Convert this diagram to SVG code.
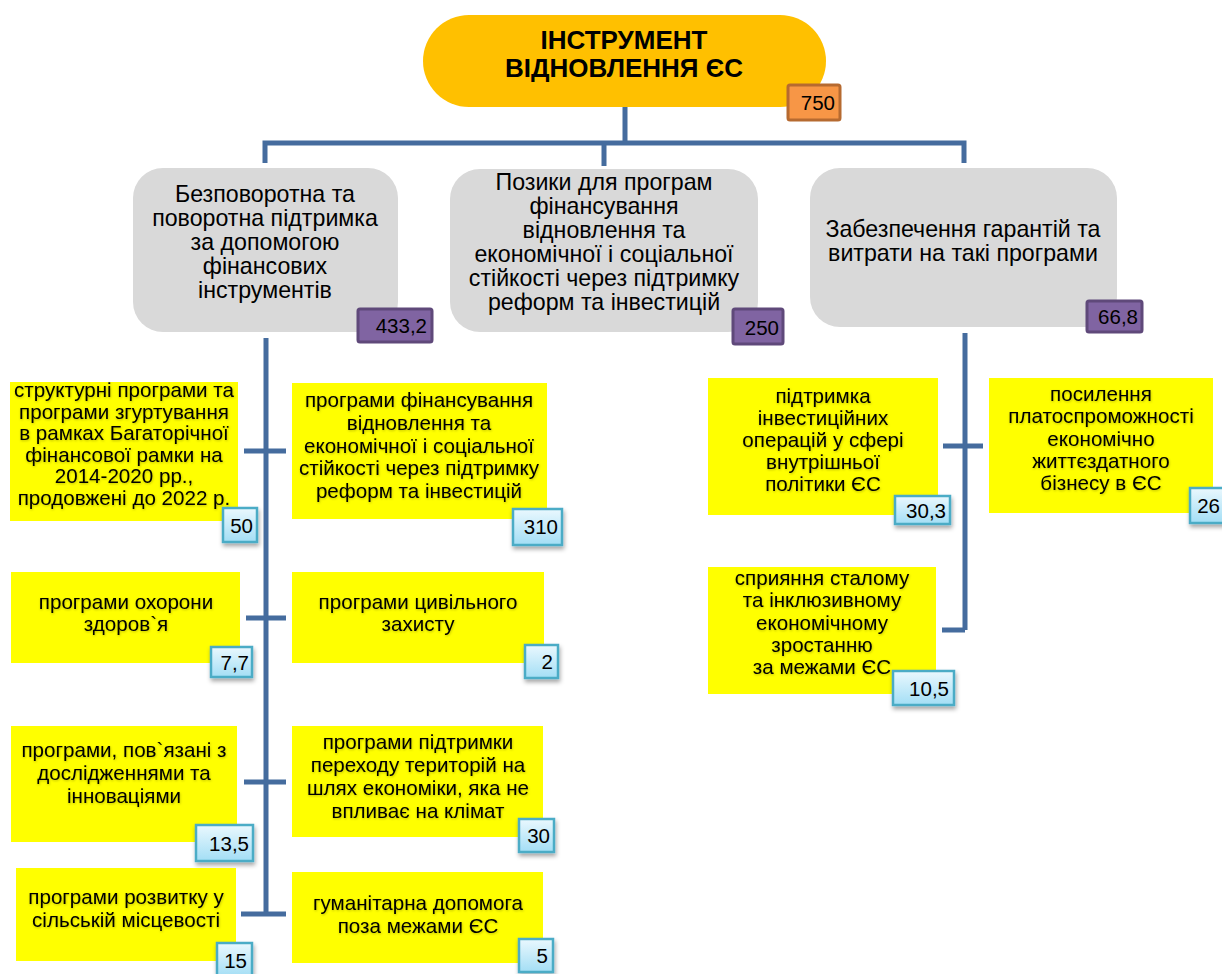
<svg xmlns="http://www.w3.org/2000/svg" width="1222" height="974" viewBox="0 0 1222 974">
<defs>
<linearGradient id="blueGrad" x1="0" y1="0" x2="0" y2="1">
<stop offset="0" stop-color="#EAF8FE"/>
<stop offset="1" stop-color="#A3DEF5"/>
</linearGradient>
<filter id="shadow" x="-30%" y="-30%" width="160%" height="180%">
<feDropShadow dx="1" dy="3" stdDeviation="2" flood-color="#000" flood-opacity="0.35"/>
</filter>
<filter id="tshadow" x="-5%" y="-10%" width="110%" height="130%">
<feDropShadow dx="0.5" dy="1" stdDeviation="0.8" flood-color="#000" flood-opacity="0.25"/>
</filter>
</defs>
<style>
.root{fill:#FFC000}
.gray{fill:#D9D9D9}
.yel{fill:#FFFF00}
.bl{fill:url(#blueGrad);stroke:#4BACC6;stroke-width:2.5;filter:url(#shadow)}
.pu{fill:#8064A2;stroke:#5F497A;stroke-width:3}
.or{fill:#F79646;stroke:#B66A30;stroke-width:3}
.t{font-family:"Liberation Sans",Arial,sans-serif;fill:#000;text-anchor:middle}
.tb{font-family:"Liberation Sans",Arial,sans-serif;fill:#000;text-anchor:middle;font-weight:bold;font-size:26px}
.tg{font-size:23.2px}
.ty{font-size:20.6px}
.n{font-family:"Liberation Sans",Arial,sans-serif;fill:#000;text-anchor:end;font-size:20.5px}
.c{fill:none;stroke:#456C9E;stroke-width:5}
</style>

<g id="connectors">
<path class="c" d="M625,107 V143 M265,163 V143 H964 V163 M604,143 V166"/>
<path class="c" d="M266,338 V914"/>
<path class="c" d="M244,451 H286 M246,618 H286 M244,782 H286 M241,914 H286"/>
<path class="c" d="M965,333 V630 M943,446 H983 M942,630 H965"/>
</g>

<g id="root">
<rect class="root" x="423" y="15" width="403" height="92" rx="46"/>
<text class="tb" x="624" y="49">ІНСТРУМЕНТ</text>
<text class="tb" x="624" y="77">ВІДНОВЛЕННЯ ЄС</text>
<rect class="or" x="788" y="85" width="52" height="35" rx="2"/>
<text class="n" x="835" y="110">750</text>
</g>

<g id="branch-grants">
<rect class="gray" x="133" y="168" width="265" height="164" rx="30"/>
<text class="t tg" x="265" y="202">Безповоротна та</text>
<text class="t tg" x="265" y="226">поворотна підтримка</text>
<text class="t tg" x="265" y="250">за допомогою</text>
<text class="t tg" x="265" y="274">фінансових</text>
<text class="t tg" x="265" y="298">інструментів</text>
<rect class="pu" x="358" y="309" width="74" height="33" rx="2"/>
<text class="n" x="427" y="333">433,2</text>
</g>

<g id="branch-loans">
<rect class="gray" x="450" y="169" width="308" height="163" rx="30"/>
<text class="t tg" x="604" y="190">Позики для програм</text>
<text class="t tg" x="604" y="214">фінансування</text>
<text class="t tg" x="604" y="238">відновлення та</text>
<text class="t tg" x="604" y="262">економічної і соціальної</text>
<text class="t tg" x="604" y="286">стійкості через підтримку</text>
<text class="t tg" x="604" y="310">реформ та інвестицій</text>
<rect class="pu" x="733" y="309" width="50" height="35" rx="2"/>
<text class="n" x="779" y="335">250</text>
</g>

<g id="branch-guarantees">
<rect class="gray" x="810" y="168" width="307" height="159" rx="30"/>
<text class="t tg" x="963" y="237">Забезпечення гарантій та</text>
<text class="t tg" x="963" y="261">витрати на такі програми</text>
<rect class="pu" x="1087" y="301" width="55" height="31" rx="2"/>
<text class="n" x="1138" y="324">66,8</text>
</g>

<g id="structural">
<rect class="yel" x="10" y="382" width="228" height="139"/>
<g filter="url(#tshadow)">
<text class="t ty" x="124" y="397">структурні програми та</text>
<text class="t ty" x="124" y="418.6">програми згуртування</text>
<text class="t ty" x="124" y="440.2">в рамках Багаторічної</text>
<text class="t ty" x="124" y="461.8">фінансової рамки на</text>
<text class="t ty" x="124" y="483.4">2014-2020 рр.,</text>
<text class="t ty" x="124" y="505">продовжені до 2022 р.</text>
</g>
<rect class="bl" x="223" y="508" width="34" height="34"/>
<text class="n" x="253" y="533">50</text>
</g>

<g id="recovery">
<rect class="yel" x="292" y="383" width="255" height="136"/>
<g filter="url(#tshadow)">
<text class="t ty" x="419" y="407">програми фінансування</text>
<text class="t ty" x="419" y="429.75">відновлення та</text>
<text class="t ty" x="419" y="452.5">економічної і соціальної</text>
<text class="t ty" x="419" y="475.25">стійкості через підтримку</text>
<text class="t ty" x="419" y="498">реформ та інвестицій</text>
</g>
<rect class="bl" x="513" y="509" width="49" height="36"/>
<text class="n" x="558" y="534">310</text>
</g>

<g id="health">
<rect class="yel" x="11" y="572" width="229" height="91"/>
<g filter="url(#tshadow)">
<text class="t ty" x="126" y="609">програми охорони</text>
<text class="t ty" x="126" y="631">здоров`я</text>
</g>
<rect class="bl" x="211" y="647" width="41" height="30"/>
<text class="n" x="249" y="670">7,7</text>
</g>

<g id="civil">
<rect class="yel" x="292" y="572" width="252" height="91"/>
<g filter="url(#tshadow)">
<text class="t ty" x="418" y="609">програми цивільного</text>
<text class="t ty" x="418" y="631">захисту</text>
</g>
<rect class="bl" x="525" y="645" width="33" height="33"/>
<text class="n" x="553" y="669">2</text>
</g>

<g id="research">
<rect class="yel" x="11" y="726" width="226" height="116"/>
<g filter="url(#tshadow)">
<text class="t ty" x="124" y="757">програми, пов`язані з</text>
<text class="t ty" x="124" y="780">дослідженнями та</text>
<text class="t ty" x="124" y="803">інноваціями</text>
</g>
<rect class="bl" x="196" y="825" width="57" height="36"/>
<text class="n" x="249" y="851">13,5</text>
</g>

<g id="transition">
<rect class="yel" x="292" y="726" width="251" height="111"/>
<g filter="url(#tshadow)">
<text class="t ty" x="418" y="749">програми підтримки</text>
<text class="t ty" x="418" y="772">переходу територій на</text>
<text class="t ty" x="418" y="795">шлях економіки, яка не</text>
<text class="t ty" x="418" y="818">впливає на клімат</text>
</g>
<rect class="bl" x="519" y="819" width="35" height="33"/>
<text class="n" x="550" y="843">30</text>
</g>

<g id="rural">
<rect class="yel" x="16" y="868" width="220" height="93"/>
<g filter="url(#tshadow)">
<text class="t ty" x="126" y="904">програми розвитку у</text>
<text class="t ty" x="126" y="927">сільській місцевості</text>
</g>
<rect class="bl" x="217" y="943" width="35" height="34"/>
<text class="n" x="247" y="968">15</text>
</g>

<g id="humanitarian">
<rect class="yel" x="292" y="872" width="251" height="91"/>
<g filter="url(#tshadow)">
<text class="t ty" x="418" y="910">гуманітарна допомога</text>
<text class="t ty" x="418" y="933">поза межами ЄС</text>
</g>
<rect class="bl" x="519" y="939" width="34" height="33"/>
<text class="n" x="548" y="963">5</text>
</g>

<g id="investment">
<rect class="yel" x="708" y="378" width="230" height="137"/>
<g filter="url(#tshadow)">
<text class="t ty" x="823" y="403">підтримка</text>
<text class="t ty" x="823" y="425">інвестиційних</text>
<text class="t ty" x="823" y="447">операцій у сфері</text>
<text class="t ty" x="823" y="469">внутрішньої</text>
<text class="t ty" x="823" y="491">політики ЄС</text>
</g>
<rect class="bl" x="895" y="496" width="55" height="28"/>
<text class="n" x="946" y="518">30,3</text>
</g>

<g id="solvency">
<rect class="yel" x="989" y="378" width="224" height="135"/>
<g filter="url(#tshadow)">
<text class="t ty" x="1101" y="401">посилення</text>
<text class="t ty" x="1101" y="423">платоспроможності</text>
<text class="t ty" x="1101" y="446">економічно</text>
<text class="t ty" x="1101" y="468">життєздатного</text>
<text class="t ty" x="1101" y="490">бізнесу в ЄС</text>
</g>
<rect class="bl" x="1190" y="488" width="36" height="35"/>
<text class="n" x="1220" y="513">26</text>
</g>

<g id="growth">
<rect class="yel" x="708" y="567" width="228" height="127"/>
<g filter="url(#tshadow)">
<text class="t ty" x="822" y="585">сприяння сталому</text>
<text class="t ty" x="822" y="607">та інклюзивному</text>
<text class="t ty" x="822" y="630">економічному</text>
<text class="t ty" x="822" y="652">зростанню</text>
<text class="t ty" x="822" y="674">за межами ЄС</text>
</g>
<rect class="bl" x="893" y="671" width="61" height="34"/>
<text class="n" x="949" y="696">10,5</text>
</g>
</svg>
